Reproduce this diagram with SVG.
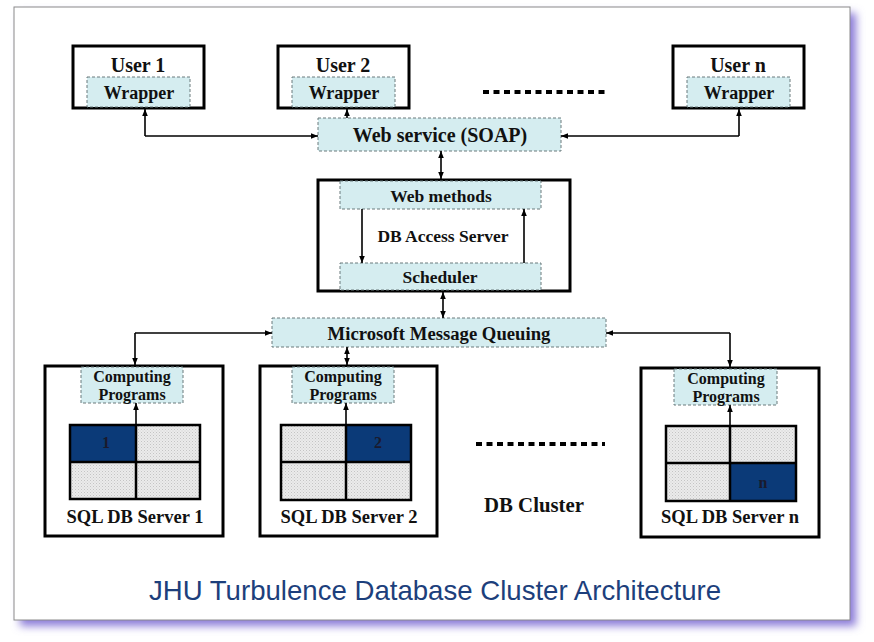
<svg xmlns="http://www.w3.org/2000/svg" width="874" height="642" viewBox="0 0 874 642">
<defs>
<filter id="sh" x="-5%" y="-5%" width="110%" height="110%"><feGaussianBlur stdDeviation="4"/></filter>
<pattern id="dots" width="3" height="3" patternUnits="userSpaceOnUse">
<rect width="3" height="3" fill="#ebebeb"/>
<rect x="0" y="0" width="1" height="1" fill="#c4c4c4"/>
<rect x="1.5" y="1.5" width="1" height="1" fill="#d2d2d2"/>
</pattern>
<marker id="ah" viewBox="0 0 10 10" refX="10" refY="5" markerWidth="7" markerHeight="7" orient="auto-start-reverse" markerUnits="userSpaceOnUse">
<path d="M0,1 L10,5 L0,9 z" fill="#000"/>
</marker>
</defs>
<style>
.b{font-family:"Liberation Serif","Times New Roman",serif;font-weight:bold;fill:#111;text-anchor:middle}
.box{fill:#fff;stroke:#000;stroke-width:3}
.dash{fill:#d5edf0;stroke:#6a7a7c;stroke-width:1;stroke-dasharray:3,2}
.c{fill:none;stroke:#000;stroke-width:1.6}
.dk{fill:#0b3a78;stroke:#000;stroke-width:1}
.lt{fill:url(#dots);stroke:#000;stroke-width:1}
.grid{fill:none;stroke:#000;stroke-width:2.5}
.dotl{stroke:#000;stroke-width:4;stroke-dasharray:6,4.5}
</style>
<rect width="874" height="642" fill="#fff"/>
<rect x="20" y="13" width="836" height="613" fill="#8a7ad8" filter="url(#sh)"/>
<rect x="14" y="7" width="836" height="613" fill="#fff" stroke="#8a8a8a" stroke-width="1"/>

<g id="user1">
<rect class="box" x="73" y="46" width="131" height="62"/>
<rect class="dash" x="87" y="77" width="103" height="30"/>
<text class="b" x="138" y="72" font-size="20">User 1</text>
<text class="b" x="139" y="99" font-size="18">Wrapper</text>
</g>
<g id="user2">
<rect class="box" x="278" y="46" width="131" height="62"/>
<rect class="dash" x="292" y="77" width="103" height="30"/>
<text class="b" x="343" y="72" font-size="20">User 2</text>
<text class="b" x="344" y="99" font-size="18">Wrapper</text>
</g>
<g id="usern">
<rect class="box" x="673" y="46" width="131" height="62"/>
<rect class="dash" x="687" y="77" width="103" height="30"/>
<text class="b" x="738" y="72" font-size="20">User n</text>
<text class="b" x="739" y="99" font-size="18">Wrapper</text>
</g>
<line class="dotl" x1="483" y1="92" x2="607" y2="92"/>

<g id="webservice">
<rect class="dash" x="318" y="118" width="243" height="33"/>
<text class="b" x="440" y="142" font-size="20">Web service (SOAP)</text>
</g>

<g id="dbaccess">
<rect class="box" x="318" y="180" width="252" height="111"/>
<rect class="dash" x="340" y="181" width="201" height="28"/>
<rect class="dash" x="340" y="263" width="201" height="27"/>
<text class="b" x="441" y="202" font-size="17.5">Web methods</text>
<text class="b" x="443" y="242" font-size="17.5">DB Access Server</text>
<text class="b" x="440" y="283" font-size="17.5">Scheduler</text>
</g>

<g id="mmq">
<rect class="dash" x="272" y="318" width="334" height="29"/>
<text class="b" x="439" y="340" font-size="18.7">Microsoft Message Queuing</text>
</g>

<g id="server1">
<rect class="box" x="45" y="366" width="178" height="170"/>
<rect class="dash" x="81" y="367" width="102" height="36"/>
<text class="b" x="132" y="382" font-size="16">Computing</text>
<text class="b" x="132" y="400" font-size="16">Programs</text>
<rect class="dk" x="70" y="425" width="66" height="37"/>
<rect class="lt" x="136" y="425" width="64" height="37"/>
<rect class="lt" x="70" y="462" width="66" height="37"/>
<rect class="lt" x="136" y="462" width="64" height="37"/>
<rect class="grid" x="70" y="425" width="130" height="74"/>
<line class="grid" x1="136" y1="425" x2="136" y2="499"/>
<line class="grid" x1="70" y1="462" x2="200" y2="462"/>
<text class="b" x="106" y="448" font-size="16" style="fill:#1a1a2e">1</text>
<text class="b" x="135" y="523" font-size="18.5">SQL DB Server 1</text>
</g>

<g id="server2">
<rect class="box" x="260" y="366" width="177" height="170"/>
<rect class="dash" x="292" y="367" width="102" height="36"/>
<text class="b" x="343" y="382" font-size="16">Computing</text>
<text class="b" x="343" y="400" font-size="16">Programs</text>
<rect class="lt" x="281" y="425" width="65" height="37"/>
<rect class="dk" x="346" y="425" width="65" height="37"/>
<rect class="lt" x="281" y="462" width="65" height="38"/>
<rect class="lt" x="346" y="462" width="65" height="38"/>
<rect class="grid" x="281" y="425" width="130" height="75"/>
<line class="grid" x1="346" y1="425" x2="346" y2="500"/>
<line class="grid" x1="281" y1="462" x2="411" y2="462"/>
<text class="b" x="378" y="448" font-size="16" style="fill:#1a1a2e">2</text>
<text class="b" x="349" y="523" font-size="18.5">SQL DB Server 2</text>
</g>

<line class="dotl" x1="476" y1="444" x2="605" y2="444"/>
<text class="b" x="534" y="512" font-size="20.8">DB Cluster</text>

<g id="servern">
<rect class="box" x="641" y="368" width="178" height="169"/>
<rect class="dash" x="674" y="369" width="103" height="36"/>
<text class="b" x="726" y="384" font-size="16">Computing</text>
<text class="b" x="726" y="402" font-size="16">Programs</text>
<rect class="lt" x="666" y="426" width="64" height="37"/>
<rect class="lt" x="730" y="426" width="66" height="37"/>
<rect class="lt" x="666" y="463" width="64" height="38"/>
<rect class="dk" x="730" y="463" width="66" height="38"/>
<rect class="grid" x="666" y="426" width="130" height="75"/>
<line class="grid" x1="730" y1="426" x2="730" y2="501"/>
<line class="grid" x1="666" y1="463" x2="796" y2="463"/>
<text class="b" x="763" y="488" font-size="16" style="fill:#1a1a2e">n</text>
<text class="b" x="730" y="523" font-size="18.5">SQL DB Server n</text>
</g>

<g id="connectors">
<path class="c" d="M145,136 V109" marker-end="url(#ah)"/>
<path class="c" d="M145,136 H318" marker-end="url(#ah)"/>
<path class="c" d="M347,118 V109" marker-end="url(#ah)"/>
<path class="c" d="M739,136 H561" marker-end="url(#ah)"/>
<path class="c" d="M739,136 V109" marker-end="url(#ah)"/>
<path class="c" d="M441,151 V179" marker-start="url(#ah)" marker-end="url(#ah)"/>
<path class="c" d="M362,209 V263" marker-end="url(#ah)"/>
<path class="c" d="M524,263 V209" marker-end="url(#ah)"/>
<path class="c" d="M443,292 V318" marker-start="url(#ah)" marker-end="url(#ah)"/>
<path class="c" d="M135,333 H272" marker-end="url(#ah)"/>
<path class="c" d="M135,333 V365" marker-end="url(#ah)"/>
<path class="c" d="M347,347 V365" marker-start="url(#ah)" marker-end="url(#ah)"/>
<path class="c" d="M730,333 H606" marker-end="url(#ah)"/>
<path class="c" d="M730,333 V367" marker-end="url(#ah)"/>
<path class="c" d="M136,424 V403" marker-end="url(#ah)"/>
<path class="c" d="M346,424 V403" marker-end="url(#ah)"/>
<path class="c" d="M730,425 V405" marker-end="url(#ah)"/>
</g>

<text x="435" y="600" font-family="'Liberation Sans',Arial,sans-serif" font-size="27.6" fill="#1d3f7c" text-anchor="middle">JHU Turbulence Database Cluster Architecture</text>
</svg>
